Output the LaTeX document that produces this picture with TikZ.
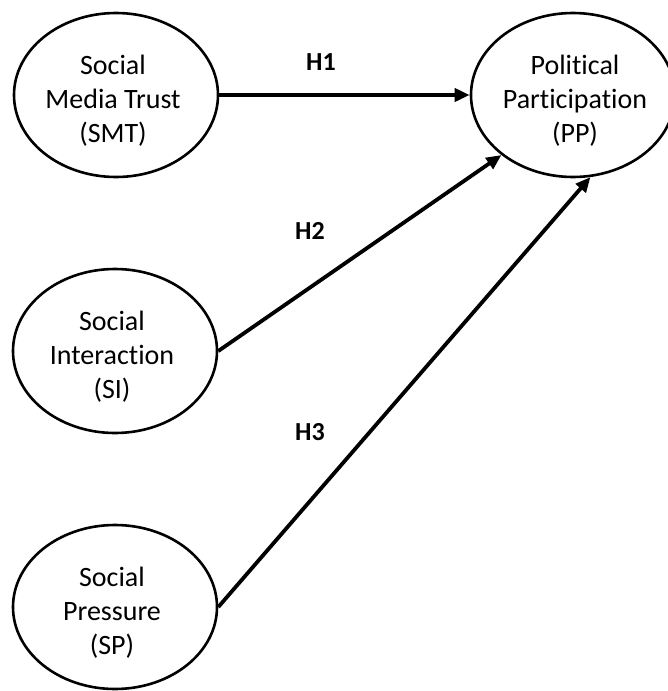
\documentclass[tikz,border=0pt]{standalone}
\usepackage{fontspec}
\setmainfont{Carlito}[Ligatures=NoCommon]
\usetikzlibrary{shapes.geometric,arrows.meta}
\begin{document}
\begin{tikzpicture}[x=1pt,y=-1pt,
  construct/.style={draw=black,line width=2.6pt,ellipse,inner sep=0pt,minimum width=204pt,minimum height=164pt},
  ctext/.style={align=center,font=\fontsize{28}{34}\selectfont,inner sep=0pt},
  hyp/.style={font=\fontsize{26}{30}\selectfont\bfseries,inner sep=0pt},
  path/.style={line width=3.8pt,-{Triangle[length=15pt,width=13pt]}}]
\useasboundingbox[fill=white] (0,0) rectangle (667,691);
\node[construct] (smt) at (116,95) {};
\node[construct] (pp)  at (573,95) {};
\node[construct] (si)  at (115,351) {};
\node[construct] (sp)  at (115,607) {};
\node[ctext] (smtt) at (113,101) {Social\\Media Trust\\(SMT)};
\node[ctext] (ppt)  at (575,101) {Political\\Participation\\(PP)};
\node[ctext] (sit)  at (112,357) {Social\\Interaction\\(SI)};
\node[ctext] (spt)  at (112,613) {Social\\Pressure\\(SP)};
\draw[path] (smt.east) -- (pp.west);
\draw[path] (si.east) -- (pp.220);
\draw[path] (sp.east) -- (pp.282);
\node[hyp] (h1) at (321,62) {H1};
\node[hyp] (h2) at (310,231) {H2};
\node[hyp] (h3) at (310,432) {H3};
\end{tikzpicture}
\end{document}
